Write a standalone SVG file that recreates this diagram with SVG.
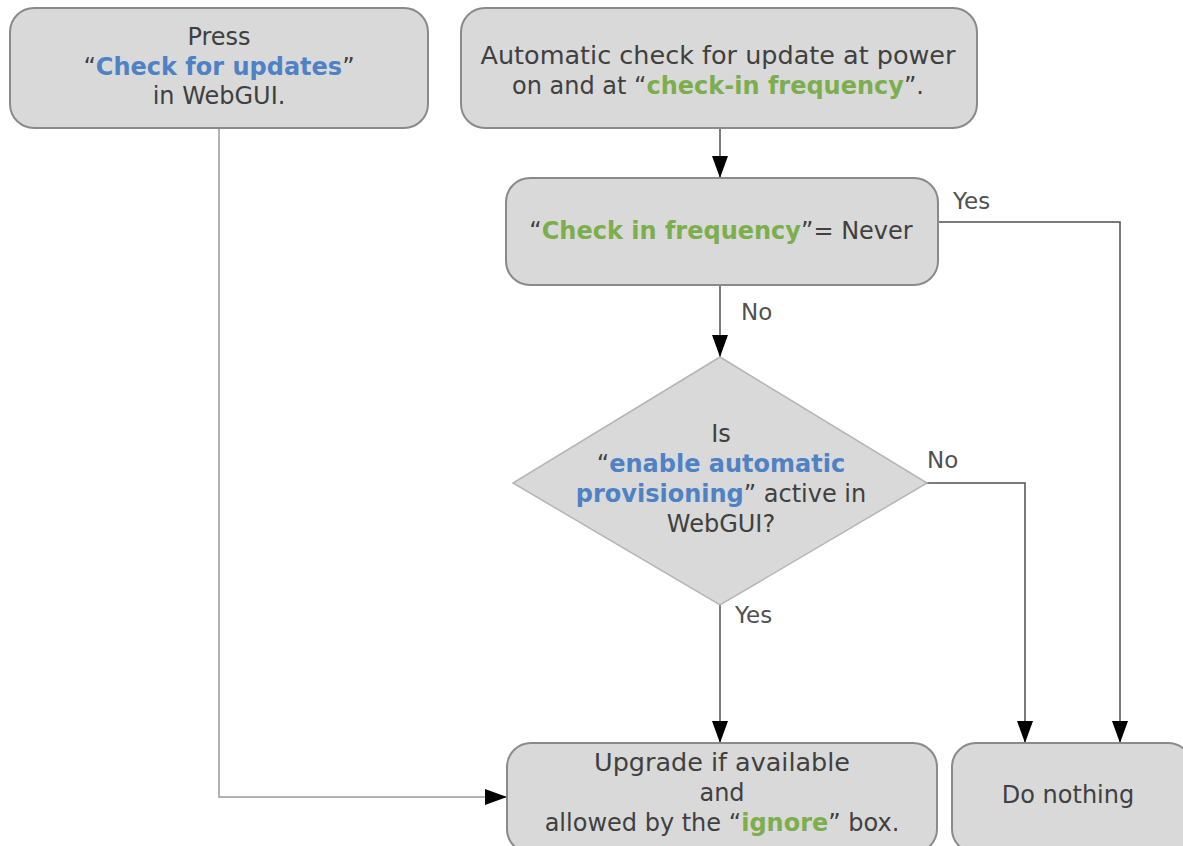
<svg xmlns="http://www.w3.org/2000/svg" width="1183" height="846" viewBox="0 0 1183 846">
<style>
.box{fill:#d9d9d9;stroke:#8a8a8a;stroke-width:2}
.dia{fill:#d9d9d9;stroke:#b5b5b5;stroke-width:1.5}
text{font-family:"DejaVu Sans","Liberation Sans",sans-serif;font-size:24px;fill:#404040;text-anchor:middle}
.b{font-weight:bold;fill:#4f82c4}
.g{font-weight:bold;fill:#7cae4e}
.lbl{font-size:23px;fill:#505050;text-anchor:start}
.ln{fill:none;stroke:#505050;stroke-width:1.5}
.ln2{fill:none;stroke:#b3b3b3;stroke-width:2}
</style>
<defs>
<marker id="ahb" viewBox="0 0 10 10" refX="10" refY="5" markerWidth="22" markerHeight="16" markerUnits="userSpaceOnUse" orient="auto" preserveAspectRatio="none">
<path d="M0,0 L10,5 L0,10 Z" fill="#000"/>
</marker>
</defs>
<rect width="1183" height="846" fill="#fff"/>
<g id="connectors">
<path class="ln2" d="M219,128 V797 H507" marker-end="url(#ahb)"/>
<path class="ln" d="M720,128 V178" marker-end="url(#ahb)"/>
<path class="ln" d="M720,286 V357" marker-end="url(#ahb)"/>
<path class="ln" d="M938,222 H1120 V743" marker-end="url(#ahb)"/>
<path class="ln" d="M927,483 H1025 V743" marker-end="url(#ahb)"/>
<path class="ln" d="M720,605 V743" marker-end="url(#ahb)"/>
<text class="lbl" x="953" y="209">Yes</text>
<text class="lbl" x="741" y="320">No</text>
<text class="lbl" x="927" y="468">No</text>
<text class="lbl" x="735" y="623">Yes</text>
</g>
<g id="press">
<rect class="box" x="10" y="8" width="418" height="120" rx="24"/>
<text x="219" y="45">Press</text>
<text x="219" y="75"><tspan>“</tspan><tspan class="b">Check for updates</tspan><tspan>”</tspan></text>
<text x="219" y="104">in WebGUI.</text>
</g>
<g id="auto">
<rect class="box" x="461" y="8" width="516" height="120" rx="24"/>
<text x="718" y="64" textLength="475" lengthAdjust="spacingAndGlyphs">Automatic check for update at power</text>
<text x="718" y="94"><tspan>on and at “</tspan><tspan class="g">check-in frequency</tspan><tspan>”.</tspan></text>
</g>
<g id="freq">
<rect class="box" x="506" y="178" width="432" height="107" rx="24"/>
<text x="721" y="239"><tspan>“</tspan><tspan class="g">Check in frequency</tspan><tspan>”= Never</tspan></text>
</g>
<g id="decision">
<polygon class="dia" points="720,357 927,483 720,605 513,483"/>
<text x="721" y="442">Is</text>
<text x="721" y="472"><tspan>“</tspan><tspan class="b">enable automatic</tspan></text>
<text x="721" y="502"><tspan class="b">provisioning</tspan><tspan>” active in</tspan></text>
<text x="721" y="532">WebGUI?</text>
</g>
<g id="upgrade">
<rect class="box" x="507" y="743" width="430" height="110" rx="24"/>
<text x="722" y="771" textLength="256" lengthAdjust="spacingAndGlyphs">Upgrade if available</text>
<text x="722" y="801">and</text>
<text x="722" y="831"><tspan>allowed by the “</tspan><tspan class="g">ignore</tspan><tspan>” box.</tspan></text>
</g>
<g id="nothing">
<rect class="box" x="952" y="743" width="240" height="110" rx="24"/>
<text x="1068" y="803">Do nothing</text>
</g>
</svg>
